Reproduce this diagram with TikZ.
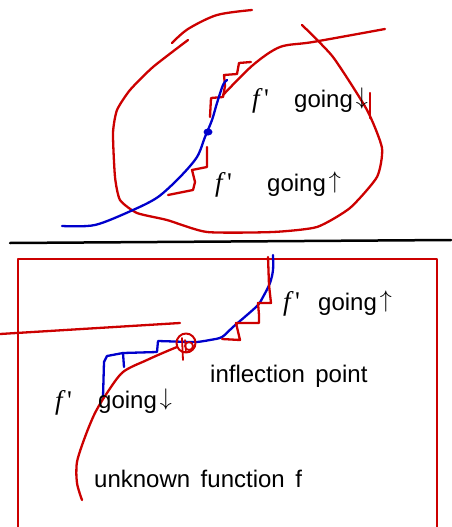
\documentclass[tikz,border=0pt]{standalone}
\usepackage{fix-cm}
\usepackage{fontspec}
\setmainfont{Liberation Sans}
\newfontfamily\serifit{Liberation Serif}
\definecolor{skred}{RGB}{204,0,0}
\definecolor{skblue}{RGB}{0,0,204}
\newcommand{\upar}{\hspace{3pt}\raisebox{3pt}{$\uparrow$}}
\newcommand{\dnar}{\hspace{3pt}\raisebox{3pt}{$\downarrow$}}
\newcommand{\widesp}{\spaceskip=10.5pt\relax}
\begin{document}
\begin{tikzpicture}[x=1pt,y=-1pt,line cap=round,line join=round,
  redline/.style={draw=skred,line width=2.3pt},
  blueline/.style={draw=skblue,line width=2.3pt},
  lbl/.style={anchor=base west,inner sep=0pt,font=\fontsize{24}{28}\selectfont},
  fp/.style={anchor=base west,inner sep=0pt,font=\fontsize{27}{31}\selectfont\serifit}]
\useasboundingbox (0,0) rectangle (451,527);
% ---------- upper sketch ----------
\draw[redline] plot[smooth,tension=0.5] coordinates {(172,43) (188,29) (217,15) (252,10)};
\draw[redline] plot[smooth,tension=0.35] coordinates {(188,40) (153,67) (130,90) (117,110) (113,133) (115,177) (120,200) (137,213) (167,220) (207,232) (273,232) (317,227) (350,208) (377,177) (382,148) (367,110) (333,57) (302,25)};
\draw[redline] plot[smooth,tension=0.5] coordinates {(223,95) (253,65) (280,47) (313,42) (385,29)};
\draw[redline] (210,117) -- (211,98) -- (223,97) -- (225,86) -- (224,75) -- (237,74) -- (239,63) -- (251,62);
\draw[blueline] plot[smooth,tension=0.5] coordinates {(62,226) (95,225) (133,210) (158,197) (180,177) (197,157) (205,137) (212,120) (217,103) (223,85) (227,80)};
\fill[skblue] (208,132) ellipse (4.5 and 3.5);
\draw[redline] (207,147) -- (207,167) -- (192,170) -- (195,182) -- (193,190) -- (168,195);
\draw[redline] (370,93) -- (370,118);
\node[fp] (fa) at (252,107) {{\itshape f}\,'};
\node[lbl] (ga) at (294,107) {going\dnar};
\node[fp] (fb) at (215,191) {{\itshape f}\,'};
\node[lbl] (gb) at (267,191) {going\upar};
% ---------- separator ----------
\draw[black,line width=2.5pt] (10,243) -- (451,240);
% ---------- lower sketch ----------
\draw[redline] (18,535) -- (18,259) -- (437,259) -- (437,535);
\draw[redline] (0,334) -- (180,323);
\draw[blueline] plot[smooth,tension=0.5] coordinates {(273,255) (273,270) (270,283) (263,297) (258,305) (247,315) (233,327) (222,337) (210,340) (197,342) (190,342)};
\draw[blueline] (190,342) -- (158,341) -- (157,352) -- (123,353) -- (107,356) -- (104,362) -- (103,397);
\draw[blueline] (123,353) -- (124,367);
\draw[redline] plot[smooth,tension=0.5] coordinates {(82,500) (77,483) (77,462) (85,437) (95,413) (107,393) (123,372) (147,360) (165,352) (177,347)};
\draw[redline] (222,339) -- (240,340) -- (236,323) -- (259,323) -- (259,315) -- (258,303) -- (271,303) -- (269,285) -- (268,257);
\draw[redline,line width=2pt] (186,343) circle (9.5);
\draw[redline,line width=1.8pt] (189,346) circle (4);
\draw[redline,line width=1.8pt] (182,338) -- (183,360);
\draw[redline,line width=1.6pt] (185,340) -- (186,352);
\node[fp] (fc) at (283,310) {{\itshape f}\,'};
\node[lbl] (gc) at (318,310) {going\upar};
\node[lbl] (ip) at (210,382) {\widesp inflection point};
\node[fp] (fd) at (55,409) {{\itshape f}\,'};
\node[lbl] (gd) at (98,408) {going\dnar};
\node[lbl] (uf) at (94,487) {\widesp unknown function f};
\end{tikzpicture}
\end{document}
